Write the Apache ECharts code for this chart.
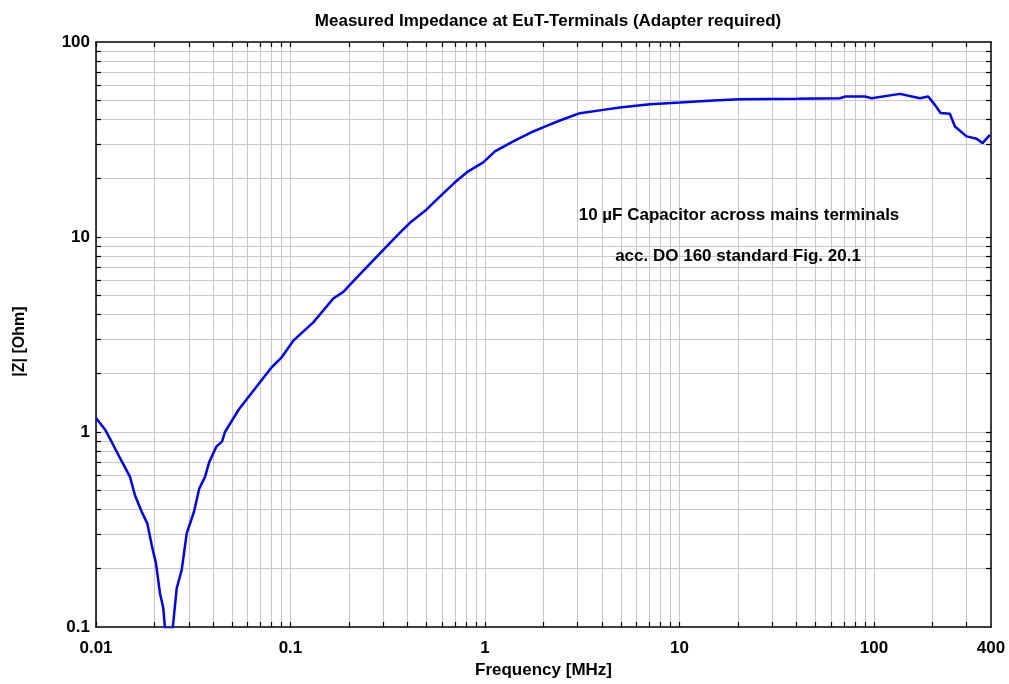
<!DOCTYPE html>
<html>
<head>
<meta charset="utf-8">
<script src="https://cdn.jsdelivr.net/npm/echarts@6/dist/echarts.min.js"></script>
<style>html,body{margin:0;padding:0;background:#fff}#c{width:1009px;height:684px}</style>
</head>
<body>
<div id="c"></div>
<script>
// Frequency in MHz
const freq = [0.01, 0.01112, 0.01204, 0.01328, 0.01496, 0.01586, 0.01718, 0.01835, 0.01934, 0.02034, 0.02133, 0.02218, 0.02264,
  0.02479, 0.026, 0.02758, 0.02927, 0.0319, 0.03397, 0.03635, 0.03824, 0.04155, 0.04444, 0.04604, 0.05435, 0.06968, 0.08006, 0.0901,
  0.1034, 0.131, 0.166, 0.187, 0.219, 0.2885, 0.3656, 0.4116, 0.5013, 0.5646, 0.701, 0.8204, 0.98, 1.126, 1.398, 1.772, 2.076, 2.43,
  3.078, 4.056, 4.944, 7.05, 10.06, 14.92, 20.47, 40.05, 66.8, 70.96, 89.9, 97.3, 136.1, 172.4, 190.2, 205.9, 220.3, 245.9, 261,
  299.7, 337.3, 362.2, 395];
// |Z| in Ohm
const impedance = [1.179, 1.031, 0.889, 0.736, 0.589, 0.474, 0.390, 0.340, 0.263, 0.212, 0.149, 0.125, 0.098,
  0.098, 0.158, 0.196, 0.302, 0.390, 0.513, 0.589, 0.702, 0.841, 0.892, 1.0, 1.308, 1.801, 2.148, 2.417,
  2.94, 3.65, 4.84, 5.23, 6.19, 8.25, 10.52, 11.83, 13.84, 15.56, 19.08, 21.72, 24.14, 27.48, 30.9, 34.76, 37.16, 39.56,
  43.17, 44.87, 46.1, 48.0, 48.9, 50.1, 50.9, 51.1, 51.5, 52.5, 52.5, 51.5, 54.2, 51.5, 52.5, 47.6, 43.2, 42.8, 36.9,
  32.8, 31.9, 30.3, 33.4];

const xLabels = [0.01, 0.1, 1, 10, 100, 400];
const yLabels = [0.1, 1, 10, 100];
const xGrid = [0.01,0.02,0.03,0.04,0.05,0.06,0.07,0.08,0.09,0.1,0.2,0.3,0.4,0.5,0.6,0.7,0.8,0.9,1,2,3,4,5,6,7,8,9,10,20,30,40,50,60,70,80,90,100,200,300];
const yGrid = [0.2,0.3,0.4,0.5,0.6,0.7,0.8,0.9,1,2,3,4,5,6,7,8,9,10,20,30,40,50,60,70,80,90];

const title = 'Measured Impedance at EuT-Terminals (Adapter required)';
const note1 = '10 µF Capacitor across mains terminals';
const note2 = 'acc. DO 160 standard Fig. 20.1';

const FONT = '"Liberation Sans", Arial, sans-serif';
const data = freq.map((f, i) => [f, impedance[i]]);

const axisLine = { show: true, lineStyle: { color: '#000', width: 1.5 } };
function xAx(pos, labels) {
  return {
    type: 'log', logBase: 10, min: 0.01, max: 400, position: pos,
    axisLine: axisLine,
    axisTick: { show: true, inside: true, length: 5, customValues: xGrid, lineStyle: { color: '#000', width: 1.2 } },
    axisLabel: labels ? { show: true, customValues: xLabels, color: '#000', fontFamily: FONT, fontWeight: 'bold', fontSize: 17, margin: 13,
      formatter: v => String(+(+v).toPrecision(6)) } : { show: false },
    splitLine: { show: false }, minorTick: { show: false },
    name: labels ? 'Frequency [MHz]' : '', nameLocation: 'middle', nameGap: 35,
    nameTextStyle: { color: '#000', fontFamily: FONT, fontWeight: 'bold', fontSize: 17 }
  };
}
function yAx(pos, labels) {
  return {
    type: 'log', logBase: 10, min: 0.1, max: 100, position: pos,
    axisLine: axisLine,
    axisTick: { show: true, inside: true, length: 5, customValues: yGrid, lineStyle: { color: '#000', width: 1.2 } },
    axisLabel: labels ? { show: true, customValues: yLabels, color: '#000', fontFamily: FONT, fontWeight: 'bold', fontSize: 17, margin: 6,
      formatter: v => String(+(+v).toPrecision(6)) } : { show: false },
    splitLine: { show: false }, minorTick: { show: false },
    name: labels ? '|Z| [Ohm]' : '', nameLocation: 'middle', nameGap: 68, nameRotate: 90,
    nameTextStyle: { color: '#000', fontFamily: FONT, fontWeight: 'bold', fontSize: 16, padding: [0, 14, 0, 0] }
  };
}

const gridLines = xGrid.map(v => ({ xAxis: v })).concat(yGrid.map(v => ({ yAxis: v })));

const chart = echarts.init(document.getElementById('c'), null, { renderer: 'canvas' });
chart.setOption({
  animation: false,
  backgroundColor: '#fff',
  title: { text: title, left: 543, textAlign: 'center', top: 8,
    textStyle: { color: '#000', fontFamily: FONT, fontWeight: 'bold', fontSize: 17 } },
  grid: { left: 96, right: 18, top: 42, bottom: 55, containLabel: false },
  xAxis: [xAx('bottom', true), xAx('top', false)],
  yAxis: [yAx('left', true), yAx('right', false)],
  graphic: [
    { type: 'text', x: 739, y: 215, z: 100, style: { text: note1, fill: '#000', stroke: null, lineWidth: 0, font: 'bold 17px ' + FONT, textAlign: 'center', textVerticalAlign: 'middle' } },
    { type: 'text', x: 738, y: 256, z: 100, style: { text: note2, fill: '#000', stroke: null, lineWidth: 0, font: 'bold 17px ' + FONT, textAlign: 'center', textVerticalAlign: 'middle' } }
  ],
  series: [
    { type: 'line', data: [], z: 0, silent: true,
      markLine: { z: 0, silent: true, symbol: ['none', 'none'], label: { show: false }, animation: false,
        lineStyle: { color: '#c8c8c8', width: 1, type: 'solid' }, emphasis: { disabled: true }, data: gridLines } },
    { type: 'line', data: data, z: 10, showSymbol: false, symbol: 'none', smooth: false, clip: true,
      lineStyle: { color: '#0000ff', width: 2.5 } }
  ]
});
</script>
</body>
</html>
